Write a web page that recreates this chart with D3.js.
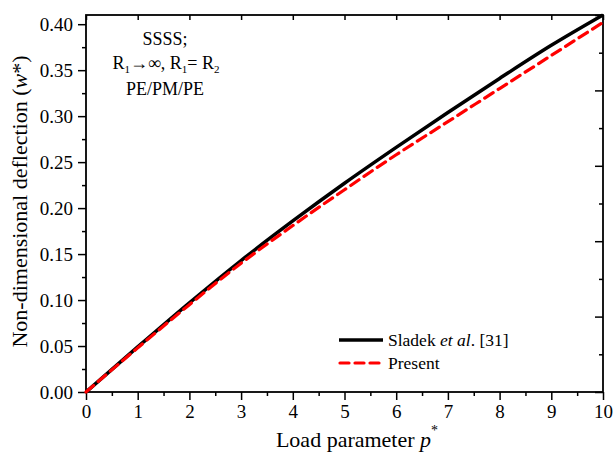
<!DOCTYPE html>
<html>
<head>
<meta charset="utf-8">
<script src="https://cdn.jsdelivr.net/npm/d3@7/dist/d3.min.js"></script>
<style>
  body { margin: 0; background: #fff; }
  svg text { font-family: "Liberation Serif", "Times New Roman", serif; fill: #000; }
</style>
</head>
<body>
<svg width="614" height="453"></svg>
<script>
// load parameter p*
var loadP = [0, 1, 2, 3, 4, 5, 6, 7, 8, 9, 10];
// Sladek et al. [31]
var sladek = [0, 0.049, 0.097, 0.143, 0.186, 0.227, 0.266, 0.304, 0.341, 0.377, 0.410];
// present study
var present = [0, 0.048, 0.095, 0.140, 0.181, 0.220, 0.258, 0.294, 0.330, 0.366, 0.402];
var xTicks = [0, 1, 2, 3, 4, 5, 6, 7, 8, 9, 10];
var yTicks = [0, 0.05, 0.10, 0.15, 0.20, 0.25, 0.30, 0.35, 0.40];

var svg = d3.select("svg"),
    margin = {left: 86, right: 11, top: 15, bottom: 61},
    width = +svg.attr("width") - margin.left - margin.right,
    height = +svg.attr("height") - margin.top - margin.bottom,
    g = svg.append("g").attr("transform", "translate(" + margin.left + "," + margin.top + ")");

var x = d3.scaleLinear().domain([0, 10]).range([0, width]);
var y = d3.scaleLinear().domain([0, 0.41]).range([height, 0]);
// right-hand axis is just split in ten
var yr = d3.scaleLinear().domain([0, 1]).range([height, 0]);

function styleAxis(sel) {
  sel.select(".domain").remove();
  sel.selectAll("line").attr("stroke", "#000").attr("stroke-width", 1.5);
  sel.selectAll("text").style("font-size", "19px");
}

// minor ticks first
g.append("g").attr("transform", "translate(0," + height + ")")
  .call(d3.axisBottom(x).tickValues(d3.range(0.5, 10, 1)).tickSize(4).tickFormat(""))
  .call(styleAxis);
g.append("g")
  .call(d3.axisLeft(y).tickValues(d3.range(0.025, 0.41, 0.05)).tickSize(4).tickFormat(""))
  .call(styleAxis);

g.append("g").attr("transform", "translate(0," + height + ")")
  .call(d3.axisBottom(x).tickValues(xTicks).tickSize(8).tickPadding(5).tickFormat(d3.format("d")))
  .call(styleAxis);
g.append("g")
  .call(d3.axisLeft(y).tickValues(yTicks).tickSize(8).tickPadding(5).tickFormat(d3.format(".2f")))
  .call(styleAxis);

// top and right mirror ticks, pointing inward
g.append("g")
  .call(d3.axisBottom(x).tickValues(xTicks).tickSize(5).tickFormat(""))
  .call(styleAxis);
g.append("g").attr("transform", "translate(" + width + ",0)")
  .call(d3.axisLeft(yr).tickValues([0, 0.2, 0.4, 0.6, 0.8, 1]).tickSize(8).tickFormat(""))
  .call(styleAxis);
g.append("g").attr("transform", "translate(" + width + ",0)")
  .call(d3.axisLeft(yr).tickValues([0.1, 0.3, 0.5, 0.7, 0.9]).tickSize(4).tickFormat(""))
  .call(styleAxis);

g.append("rect")
  .attr("width", width).attr("height", height)
  .attr("fill", "none").attr("stroke", "#000").attr("stroke-width", 1.8);

var line = d3.line()
  .x(function(d, i) { return x(loadP[i]); })
  .y(function(d) { return y(d); })
  .curve(d3.curveMonotoneX);

g.append("path").datum(sladek)
  .attr("d", line).attr("fill", "none")
  .attr("stroke", "#000").attr("stroke-width", 3.5);
g.append("path").datum(present)
  .attr("d", line).attr("fill", "none")
  .attr("stroke", "#ff0000").attr("stroke-width", 3.2)
  .attr("stroke-dasharray", "10,6").attr("stroke-linecap", "round");

// annotation
svg.append("text").attr("text-anchor", "middle").attr("x", 165).attr("y", 45)
  .style("font-size", "18px").text("SSSS;");
var l2 = svg.append("text").attr("text-anchor", "middle").attr("x", 166).attr("y", 69).style("font-size", "18px");
l2.append("tspan").text("R");
l2.append("tspan").attr("dy", 4).style("font-size", "11px").text("1");
l2.append("tspan").attr("dy", -4).text("\u2192\u221e, R");
l2.append("tspan").attr("dy", 4).style("font-size", "11px").text("1");
l2.append("tspan").attr("dy", -4).text("= R");
l2.append("tspan").attr("dy", 4).style("font-size", "11px").text("2");
svg.append("text").attr("text-anchor", "middle").attr("x", 165).attr("y", 95)
  .style("font-size", "18px").text("PE/PM/PE");

// legend
var legend = svg.append("g");
legend.append("line").attr("x1", 339).attr("x2", 383).attr("y1", 340).attr("y2", 340)
  .attr("stroke", "#000").attr("stroke-width", 3.5);
legend.append("line").attr("x1", 340).attr("x2", 383).attr("y1", 363).attr("y2", 363)
  .attr("stroke", "#ff0000").attr("stroke-width", 3.2)
  .attr("stroke-dasharray", "9,6").attr("stroke-linecap", "round");
var lt = legend.append("text").attr("x", 388).attr("y", 346).style("font-size", "17.5px");
lt.append("tspan").text("Sladek ");
lt.append("tspan").style("font-style", "italic").text("et al");
lt.append("tspan").text(". [31]");
legend.append("text").attr("x", 388).attr("y", 369).style("font-size", "17.5px").text("Present");

// axis titles
var xt = svg.append("text").attr("text-anchor", "middle")
  .attr("x", 357).attr("y", 447).style("font-size", "22px");
xt.append("tspan").text("Load parameter ");
xt.append("tspan").style("font-style", "italic").text("p");
xt.append("tspan").attr("dy", -12).style("font-size", "14px").text("*");

var yt = svg.append("text").attr("text-anchor", "middle")
  .attr("transform", "translate(27," + (margin.top + height / 2 - 2) + ") rotate(-90)")
  .style("font-size", "22px");
yt.append("tspan").text("Non-dimensional deflection (");
yt.append("tspan").style("font-style", "italic").text("w");
yt.append("tspan").text("*)");
</script>
</body>
</html>
